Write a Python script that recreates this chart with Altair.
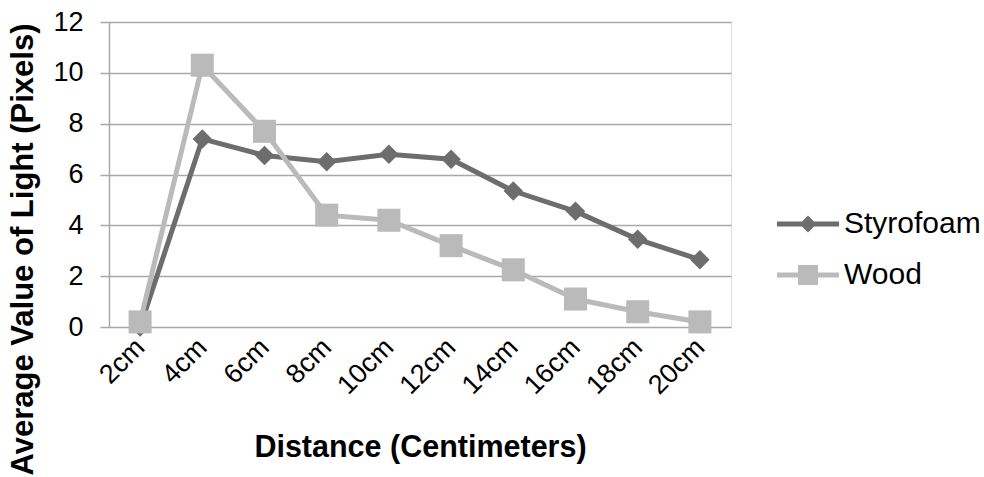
import altair as alt
import pandas as pd

distances = ["2cm", "4cm", "6cm", "8cm", "10cm", "12cm", "14cm", "16cm", "18cm", "20cm"]
styrofoam = [0.0, 7.4, 6.75, 6.5, 6.8, 6.6, 5.35, 4.55, 3.45, 2.65]
wood = [0.2, 10.3, 7.7, 4.4, 4.2, 3.2, 2.25, 1.1, 0.6, 0.2]
series_names = ["Styrofoam", "Wood"]
series_colors = ["#6d6d6d", "#bababa"]
y_ticks = [0, 2, 4, 6, 8, 10, 12]

rows = []
for d, v in zip(distances, styrofoam):
    rows.append({"distance": d, "value": v, "series": "Styrofoam"})
for d, v in zip(distances, wood):
    rows.append({"distance": d, "value": v, "series": "Wood"})
df = pd.DataFrame(rows)

FONT = "Liberation Sans"
W, H = 622, 305

x_enc = alt.X(
    "distance:N",
    sort=distances,
    scale=alt.Scale(type="point", padding=0.5),
    axis=alt.Axis(
        title="Distance (Centimeters)",
        labelAngle=-45,
        labelAlign="right",
        labelBaseline="middle",
        labelFontSize=27,
        labelFont=FONT,
        labelColor="#000000",
        labelPadding=16,
        ticks=False,
        domain=False,
        grid=False,
        titleFont=FONT,
        titleFontSize=30.5,
        titleFontWeight="bold",
        titleColor="#000000",
        titleBaseline="middle",
        titleY=120,
    ),
)
y_enc = alt.Y(
    "value:Q",
    scale=alt.Scale(domain=[0, 12], nice=False, zero=True),
    axis=alt.Axis(
        title="Average Value of Light (Pixels)",
        values=y_ticks,
        labelFontSize=27,
        labelFont=FONT,
        labelColor="#000000",
        labelPadding=17,
        tickSize=9,
        tickColor="#a8a8a8",
        tickWidth=1.5,
        domainColor="#a8a8a8",
        domainWidth=1.5,
        grid=True,
        gridColor="#a8a8a8",
        gridWidth=1.5,
        titleFont=FONT,
        titleFontSize=31,
        titleFontWeight="bold",
        titleColor="#000000",
        titleAngle=270,
        titleAlign="center",
        titleBaseline="alphabetic",
        titleX=-77,
        titleY=227,
    ),
)

base = alt.Chart(df)

lines = base.mark_line(strokeWidth=5).encode(
    x=x_enc, y=y_enc,
    stroke=alt.Stroke("series:N", scale=alt.Scale(domain=series_names, range=series_colors), legend=None),
    detail="series:N",
)

pts_s = base.transform_filter(alt.datum.series == "Styrofoam").mark_point(
    shape="diamond", filled=True, size=380, opacity=1, color=series_colors[0]
).encode(x=x_enc, y=y_enc)

pts_w = base.transform_filter(alt.datum.series == "Wood").mark_point(
    shape="square", filled=True, size=530, opacity=1, color=series_colors[1]
).encode(x=x_enc, y=y_enc)

# legend glyphs: a filled bar (the line) plus the marker, both drawn clockwise
legend_paths = [
    "M-6.2,-0.5L6.2,-0.5L6.2,0.5L-6.2,0.5ZM0,-1.7L1.7,0L0,1.7L-1.7,0Z",
    "M-6.2,-0.5L6.2,-0.5L6.2,0.5L-6.2,0.5ZM-2,-2L2,-2L2,2L-2,2Z",
]

leg = alt.Legend(
    title=None,
    orient="none",
    legendX=684,
    legendY=187,
    labelFont=FONT,
    labelFontSize=30,
    labelColor="#000000",
    labelOffset=21,
    symbolSize=100,
    symbolStrokeWidth=0,
    symbolOpacity=1,
    rowPadding=21,
)

legend_layer = base.mark_point(filled=True, size=0, opacity=1).encode(
    x=x_enc, y=y_enc,
    color=alt.Color("series:N", scale=alt.Scale(domain=series_names, range=series_colors), legend=leg),
    shape=alt.Shape("series:N", scale=alt.Scale(domain=series_names, range=legend_paths), legend=leg),
)

chart = (
    alt.layer(lines, pts_s, pts_w, legend_layer)
    .resolve_scale(stroke="independent")
    .properties(
        width=W,
        height=H,
        autosize=alt.AutoSizeParams(type="none"),
        padding={"left": 109, "top": 22, "right": 984 - 109 - W, "bottom": 477 - 22 - H},
    )
    .configure_view(stroke=None)
    .configure(background="white")
)

chart.save("out.html", embed_options={"renderer": "svg", "actions": False})
